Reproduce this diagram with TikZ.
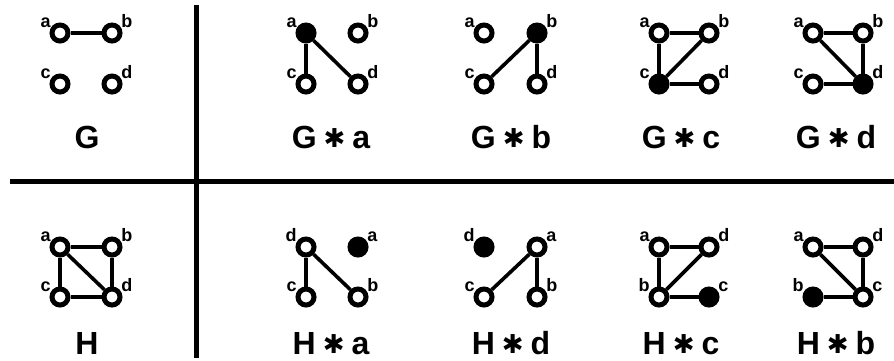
\documentclass[tikz,border=0pt]{standalone}
\usepackage{fontspec}
\setmainfont{Liberation Sans}
\newfontfamily\symfont{DejaVu Sans}
\usetikzlibrary{positioning}

\newcommand{\nstar}{\hspace{7pt}{\symfont\fontsize{26}{26}\selectfont\raisebox{1pt}{✱}}\hspace{7pt}}

\begin{document}
\begin{tikzpicture}[
		x=1pt, y=-1pt,
		vtx/.style={circle, draw, line width=5pt, fill=white, minimum size=16pt, inner sep=0pt},
		hit/.style={vtx, fill=black},
		lbl/.style={font=\fontsize{18}{18}\selectfont\bfseries, inner sep=0pt},
		tl/.style={label={[lbl, label distance=0pt]150:#1}},
		tr/.style={label={[lbl, label distance=0pt]30:#1}},
		link/.style={line width=3.6pt},
		rule/.style={line width=5pt},
		caption/.style={font=\fontsize{32}{32}\selectfont\bfseries, anchor=base, inner sep=0pt}
	]
	\useasboundingbox (0,0) rectangle (894,360);

	% table rules
	\draw [rule] (10,181) -- (894,181);
	\draw [rule] (196,5) -- (196,358);

	% G
	\node[vtx, tl=a] (G-a) at (60,33) {};
	\node[vtx, tr=b] (G-b) at (112,33) {};
	\node[vtx, tl=c] (G-c) at (60,84) {};
	\node[vtx, tr=d] (G-d) at (112,84) {};
	\draw [link] (G-a) -- (G-b);
	\node[caption] (G) at (87,148) {G};

	% G*a
	\node[hit, tl=a] (Ga-a) at (306,33) {};
	\node[vtx, tr=b] (Ga-b) at (358,33) {};
	\node[vtx, tl=c] (Ga-c) at (306,84) {};
	\node[vtx, tr=d] (Ga-d) at (358,84) {};
	\draw [link] (Ga-a) -- (Ga-c);
	\draw [link] (Ga-a) -- (Ga-d);
	\node[caption] (Ga) at (331,148) {G\nstar a};

	% G*b
	\node[vtx, tl=a] (Gb-a) at (484,33) {};
	\node[hit, tr=b] (Gb-b) at (537,33) {};
	\node[vtx, tl=c] (Gb-c) at (484,84) {};
	\node[vtx, tr=d] (Gb-d) at (537,84) {};
	\draw [link] (Gb-b) -- (Gb-c);
	\draw [link] (Gb-b) -- (Gb-d);
	\node[caption] (Gb) at (511,148) {G\nstar b};

	% G*c
	\node[vtx, tl=a] (Gc-a) at (659,33) {};
	\node[vtx, tr=b] (Gc-b) at (709,33) {};
	\node[hit, tl=c] (Gc-c) at (659,84) {};
	\node[vtx, tr=d] (Gc-d) at (709,84) {};
	\draw [link] (Gc-a) -- (Gc-b);
	\draw [link] (Gc-a) -- (Gc-c);
	\draw [link] (Gc-c) -- (Gc-b);
	\draw [link] (Gc-c) -- (Gc-d);
	\node[caption] (Gc) at (681,148) {G\nstar c};

	% G*d
	\node[vtx, tl=a] (Gd-a) at (813,33) {};
	\node[vtx, tr=b] (Gd-b) at (863,33) {};
	\node[vtx, tl=c] (Gd-c) at (813,84) {};
	\node[hit, tr=d] (Gd-d) at (863,84) {};
	\draw [link] (Gd-a) -- (Gd-b);
	\draw [link] (Gd-a) -- (Gd-d);
	\draw [link] (Gd-b) -- (Gd-d);
	\draw [link] (Gd-c) -- (Gd-d);
	\node[caption] (Gd) at (836,148) {G\nstar d};

	% H
	\node[vtx, tl=a] (H-a) at (60,247) {};
	\node[vtx, tr=b] (H-b) at (112,247) {};
	\node[vtx, tl=c] (H-c) at (60,297) {};
	\node[vtx, tr=d] (H-d) at (112,297) {};
	\draw [link] (H-a) -- (H-b);
	\draw [link] (H-a) -- (H-c);
	\draw [link] (H-a) -- (H-d);
	\draw [link] (H-b) -- (H-d);
	\draw [link] (H-c) -- (H-d);
	\node[caption] (H) at (87,354) {H};

	% H*a
	\node[vtx, tl=d] (Ha-d) at (306,247) {};
	\node[hit, tr=a] (Ha-a) at (358,247) {};
	\node[vtx, tl=c] (Ha-c) at (306,297) {};
	\node[vtx, tr=b] (Ha-b) at (358,297) {};
	\draw [link] (Ha-d) -- (Ha-c);
	\draw [link] (Ha-d) -- (Ha-b);
	\node[caption] (Ha) at (331,354) {H\nstar a};

	% H*d
	\node[hit, tl=d] (Hd-d) at (484,247) {};
	\node[vtx, tr=a] (Hd-a) at (537,247) {};
	\node[vtx, tl=c] (Hd-c) at (484,297) {};
	\node[vtx, tr=b] (Hd-b) at (537,297) {};
	\draw [link] (Hd-a) -- (Hd-c);
	\draw [link] (Hd-a) -- (Hd-b);
	\node[caption] (Hd) at (511,354) {H\nstar d};

	% H*c
	\node[vtx, tl=a] (Hc-a) at (659,247) {};
	\node[vtx, tr=d] (Hc-d) at (709,247) {};
	\node[vtx, tl=b] (Hc-b) at (659,297) {};
	\node[hit, tr=c] (Hc-c) at (709,297) {};
	\draw [link] (Hc-a) -- (Hc-d);
	\draw [link] (Hc-a) -- (Hc-b);
	\draw [link] (Hc-b) -- (Hc-d);
	\draw [link] (Hc-b) -- (Hc-c);
	\node[caption] (Hc) at (681,354) {H\nstar c};

	% H*b
	\node[vtx, tl=a] (Hb-a) at (813,247) {};
	\node[vtx, tr=d] (Hb-d) at (863,247) {};
	\node[hit, tl=b] (Hb-b) at (813,297) {};
	\node[vtx, tr=c] (Hb-c) at (863,297) {};
	\draw [link] (Hb-a) -- (Hb-d);
	\draw [link] (Hb-a) -- (Hb-c);
	\draw [link] (Hb-d) -- (Hb-c);
	\draw [link] (Hb-b) -- (Hb-c);
	\node[caption] (Hb) at (836,354) {H\nstar b};

\end{tikzpicture}
\end{document}
